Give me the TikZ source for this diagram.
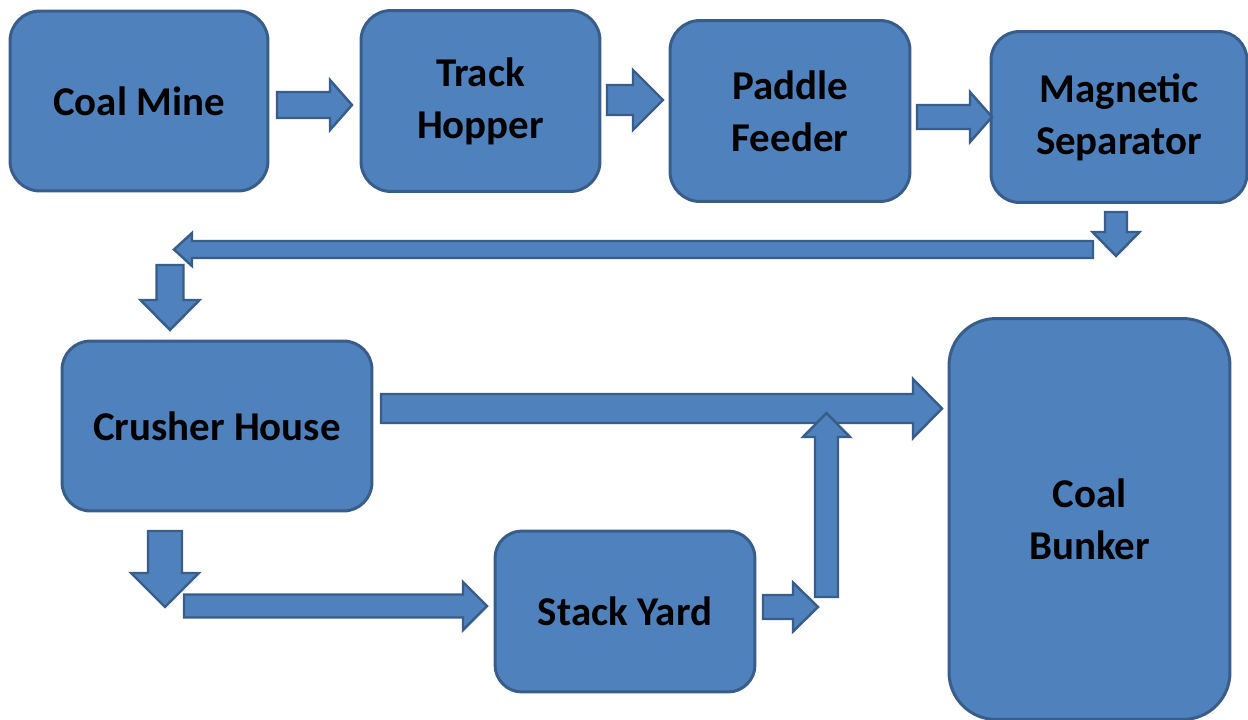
\documentclass[tikz,border=0pt]{standalone}
\usepackage{fontspec}
\setmainfont{Carlito}
\definecolor{boxfill}{HTML}{4F81BD}
\definecolor{boxline}{HTML}{385D8A}

% Block arrows: shaft half-width #4, head half-width #5, head length #6
% right / left: #1 tail x, #2 tip x, #3 centre y
\newcommand\blkR[6]{\draw[blockarrow] ({#1},{#3-#4}) -- ({#2-#6},{#3-#4}) -- ({#2-#6},{#3-#5}) -- ({#2},{#3}) -- ({#2-#6},{#3+#5}) -- ({#2-#6},{#3+#4}) -- ({#1},{#3+#4}) -- cycle;}
\newcommand\blkL[6]{\draw[blockarrow] ({#1},{#3-#4}) -- ({#2+#6},{#3-#4}) -- ({#2+#6},{#3-#5}) -- ({#2},{#3}) -- ({#2+#6},{#3+#5}) -- ({#2+#6},{#3+#4}) -- ({#1},{#3+#4}) -- cycle;}
% down / up: #1 centre x, #2 tail y, #3 tip y
\newcommand\blkD[6]{\draw[blockarrow] ({#1-#4},{#2}) -- ({#1-#4},{#3-#6}) -- ({#1-#5},{#3-#6}) -- ({#1},{#3}) -- ({#1+#5},{#3-#6}) -- ({#1+#4},{#3-#6}) -- ({#1+#4},{#2}) -- cycle;}
\newcommand\blkU[6]{\draw[blockarrow] ({#1-#4},{#2}) -- ({#1-#4},{#3+#6}) -- ({#1-#5},{#3+#6}) -- ({#1},{#3}) -- ({#1+#5},{#3+#6}) -- ({#1+#4},{#3+#6}) -- ({#1+#4},{#2}) -- cycle;}

\begin{document}
\begin{tikzpicture}[x=0.02cm, y=-0.02cm,
  stage/.style={draw=boxline, fill=boxfill, line width=1.7pt, align=center,
    inner sep=0pt, font=\bfseries\fontsize{23.3}{29.5}\selectfont, text=black},
  blockarrow/.style={draw=boxline, fill=boxfill, line width=1.4pt, line join=miter}]
\useasboundingbox (0,0) rectangle (1248,720);
\clip (0,0) rectangle (1248,720);

% process stages
\node[stage, minimum width=5.16cm, minimum height=3.6cm, rounded corners=0.6cm] (mine) at (139,101) {Coal Mine};
\node[stage, minimum width=4.78cm, minimum height=3.62cm, rounded corners=0.6cm] (hopper) at (480.5,101) {Track\\Hopper};
\node[stage, minimum width=4.8cm, minimum height=3.62cm, rounded corners=0.6cm] (feeder) at (790,111) {Paddle\\Feeder};
\node[stage, minimum width=5.12cm, minimum height=3.42cm, rounded corners=0.57cm] (separator) at (1119,117) {Magnetic\\Separator};
\node[stage, minimum width=6.2cm, minimum height=3.4cm, rounded corners=0.57cm] (crusher) at (217,426) {Crusher House};
\node[stage, minimum width=5.2cm, minimum height=3.22cm, rounded corners=0.54cm] (yard) at (625,611.5) {Stack Yard};
\node[stage, minimum width=5.62cm, minimum height=8.02cm, rounded corners=0.94cm] (bunker) at (1089.5,519) {Coal\\Bunker};

% flow arrows
\blkR{277}{352}{105}{13}{25}{22}
\blkR{607}{663}{100}{15}{30}{30}
\blkR{917}{992}{117}{12}{25}{22}
\blkD{1116}{212}{256}{11}{23.5}{24}
\blkL{1093}{174}{249.5}{8.5}{16.5}{18}
\blkD{170}{265}{330}{13.5}{29.5}{30}
\blkR{381}{942}{408.5}{14.5}{29.5}{29}
\blkD{165}{531}{607}{17}{34}{34}
\blkR{184}{487}{606}{11.5}{24}{24}
\blkR{763}{818}{607}{12}{24.5}{25}
\blkU{826.5}{597}{413}{11.5}{23.5}{24}
\end{tikzpicture}
\end{document}
